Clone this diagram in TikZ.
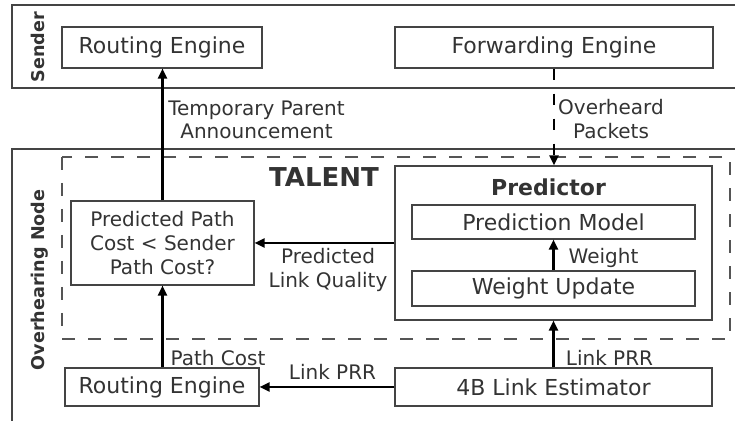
\documentclass[tikz,border=0pt]{standalone}
\usepackage{fontspec}
\setmainfont{DejaVu Sans}
\usetikzlibrary{arrows.meta}
\definecolor{txt}{HTML}{333333}
\definecolor{frame}{HTML}{444444}
\definecolor{dashc}{HTML}{555555}
\tikzset{
  box/.style={draw=frame, line width=0.55pt, rectangle, inner sep=0pt, text=txt, font=\fontsize{11}{13}\selectfont},
  lbl/.style={inner sep=0pt, text=txt, align=center, font=\fontsize{10}{11.8}\selectfont},
  arr/.style={line width=1.1pt, -{Triangle[length=5pt,width=4.5pt]}},
  sidelbl/.style={rotate=90, inner sep=0pt, text=txt, font=\fontsize{8.8}{10}\selectfont\bfseries},
}
\begin{document}
\begin{tikzpicture}[x=0.5pt,y=-0.5pt]
\useasboundingbox (0,0) rectangle (735,421);
% outer frames
\draw[frame, line width=0.55pt] (735,5) -- (12,5) -- (12,88) -- (735,88);
\draw[frame, line width=0.55pt] (735,149) -- (12,149) -- (12,421);
\draw[dashc, line width=0.55pt, dash pattern=on 6.5pt off 6.5pt] (62,157) rectangle (730,339);
\node[sidelbl] (sender) at (38,47) {Sender};
\node[sidelbl] (overnode) at (40,280) {Overhearing Node};
% nodes
\node[box, minimum width=100pt, minimum height=20.5pt] (sre) at (162,47.5) {Routing Engine};
\node[box, minimum width=159pt, minimum height=20.5pt] (fwd) at (554,47.5) {Forwarding Engine};
\node[box, minimum width=91.5pt, minimum height=42pt, align=center, font=\fontsize{10}{12}\selectfont] (dec) at (162.5,243) {Predicted Path\\Cost < Sender\\Path Cost?};
\node[box, minimum width=158.5pt, minimum height=77pt] (pred) at (553.5,243) {};
\node[inner sep=0pt, text=txt, font=\fontsize{11}{13}\selectfont\bfseries] (predt) at (548.5,187.5) {Predictor};
\node[text=txt, inner sep=0pt, font=\fontsize{13}{15}\selectfont\bfseries] (talent) at (324,177.5) {TALENT};
\node[box, minimum width=141.5pt, minimum height=17pt] (pm) at (553.5,222) {Prediction Model};
\node[box, minimum width=141.5pt, minimum height=17.5pt] (wu) at (553.5,288.5) {Weight Update};
\node[box, minimum width=97pt, minimum height=19pt] (ore) at (162,387) {Routing Engine};
\node[box, minimum width=158.5pt, minimum height=19pt] (est) at (553.5,387) {4B Link Estimator};
% labels
\node[lbl] (l1) at (256.5,120) {Temporary Parent\\Announcement};
\node[lbl] (l2) at (611,119) {Overheard\\Packets};
\node[lbl] (l3) at (328,270) {Predicted\\Link Quality};
\node[lbl] (l4) at (218,358) {Path Cost};
\node[lbl] (l5) at (332.5,372) {Link PRR};
\node[lbl] (l6) at (609.5,357.5) {Link PRR};
\node[lbl] (l7) at (603.5,258) {Weight};
% connectors
\draw[arr] (dec.north) -- (dec.north |- sre.south);
\draw[arr, dash pattern=on 5.5pt off 7pt] (fwd.south) -- (fwd.south |- pred.north);
\draw[arr] (pred.west |- dec.east) -- (dec.east);
\draw[arr] (ore.north -| dec.south) -- (dec.south);
\draw[arr] (est.west) -- (ore.east);
\draw[arr] (est.north) -- (pred.south);
\draw[arr] (wu.north) -- (pm.south);
\end{tikzpicture}
\end{document}
